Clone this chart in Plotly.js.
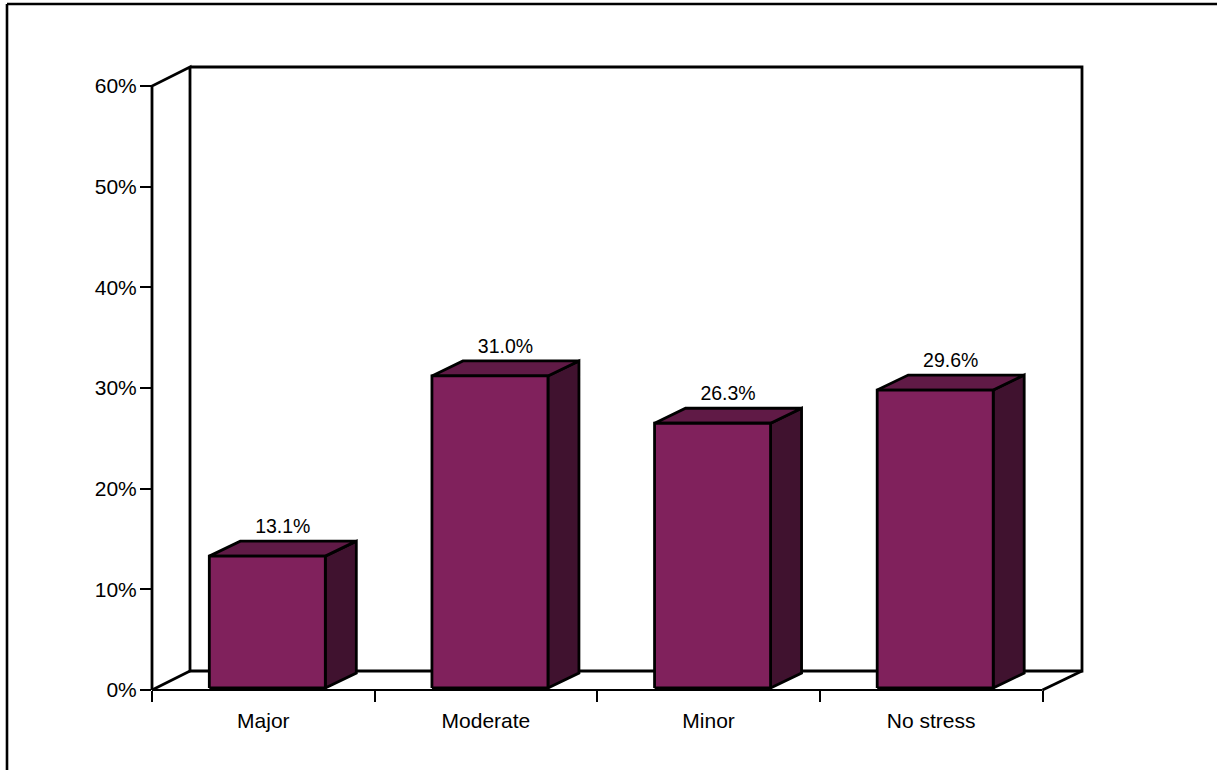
<!DOCTYPE html>
<html>
<head>
<meta charset="utf-8">
<script src="https://cdn.plot.ly/plotly-3.0.1.min.js"></script>
<style>html,body{margin:0;padding:0;background:#fff;overflow:hidden}#chart{width:1217px;height:770px}</style>
</head>
<body>
<div id="chart"></div>
<script>
var categories = ["Major", "Moderate", "Minor", "No stress"];
var values = [13.1, 31.0, 26.3, 29.6];
var valueLabels = ["13.1%", "31.0%", "26.3%", "29.6%"];
var yTicks = [0, 10, 20, 30, 40, 50, 60];

var W = 1217, H = 770, L = 152, R = 1042.5, T = 86, B = 690;
var n = categories.length, ym = 60;
var ux = (R - L) / n;     // px per category
var uy = (B - T) / ym;    // px per percent
function dx(px) { return px / ux; }
function dy(px) { return px / uy; }

var BLACK = "#000000", LW = 2.8;
var barHalf = dx(116) / 2;
var shiftX = dx(4), shiftY = dy(2);
var depthX = dx(31), depthY = dy(15);
var wallPxX = 39.5, wallPxY = 19;
var wallX = dx(wallPxX), wallY = dy(wallPxY), wallLeft = dx(38);
var R2 = R + wallPxX, T2 = T - wallPxY;
var PAD = 6;
var Lp = L - PAD, Rp = R2 + PAD, Tp = T2 - PAD, Bp = B + PAD;
var PW = Rp - Lp, PH = Bp - Tp;

var front = {x: [], y: []}, top_ = {x: [], y: []}, side = {x: [], y: []};
function add(o, xs, ys) {
  o.x = o.x.concat(xs, [null]);
  o.y = o.y.concat(ys, [null]);
}
var lx = [], ly = [];
categories.forEach(function (c, i) {
  var x0 = i + 0.5 + shiftX - barHalf, x1 = i + 0.5 + shiftX + barHalf;
  var y0 = shiftY, y1 = values[i] + shiftY;
  add(front, [x0, x1, x1, x0, x0], [y0, y0, y1, y1, y0]);
  add(top_, [x0, x1, x1 + depthX, x0 + depthX, x0], [y1, y1, y1 + depthY, y1 + depthY, y1]);
  add(side, [x1, x1 + depthX, x1 + depthX, x1, x1], [y0, y0 + depthY, y1 + depthY, y1, y0]);
  lx.push(i + 0.5 + shiftX + depthX / 2);
  ly.push(y1 + depthY + dy(3.5));
});

function face(o, color) {
  return {x: o.x, y: o.y, xaxis: "x2", yaxis: "y2", mode: "lines", fill: "toself", fillcolor: color,
    line: {color: BLACK, width: LW, simplify: false}, hoverinfo: "skip"};
}
var wall = {
  x: [0, 0, wallLeft, wallLeft, n + wallX, n + wallX, wallLeft, null, 0, wallLeft, null, n, n + wallX],
  y: [0, ym, ym + wallY, wallY, wallY, ym + wallY, ym + wallY, null, 0, wallY, null, 0, wallY],
  xaxis: "x2", yaxis: "y2", mode: "lines",
  line: {color: BLACK, width: LW, simplify: false}, hoverinfo: "skip"
};
var baseLine = {
  x: [0, n], y: [0, 0], xaxis: "x2", yaxis: "y2", mode: "lines",
  line: {color: BLACK, width: 2}, hoverinfo: "skip"
};
var labels = {
  x: lx, y: ly, text: valueLabels, mode: "text", textposition: "top center",
  textfont: {family: "Liberation Sans, Arial, sans-serif", size: 19.5, color: BLACK},
  cliponaxis: false, hoverinfo: "skip"
};

var centers = categories.map(function (c, i) { return i + 0.5; });
var bounds = categories.map(function (c, i) { return i; }).concat([n]);
var font = {family: "Liberation Sans, Arial, sans-serif", size: 21, color: BLACK};

var layout = {
  width: W, height: H, showlegend: false,
  margin: {l: Lp, r: W - Rp, t: Tp, b: H - Bp, pad: 0},
  paper_bgcolor: "#fff", plot_bgcolor: "rgba(0,0,0,0)",
  xaxis: {
    domain: [PAD / PW, 1 - PAD / PW], anchor: "y",
    range: [0, n + wallX], tickmode: "array", tickvals: centers, ticktext: categories,
    ticks: "", showgrid: false, zeroline: false, showline: false,
    tickfont: font, ticklabelstandoff: 16,
    minor: {tickmode: "array", tickvals: bounds, ticks: "outside", ticklen: 11, tickwidth: 2, tickcolor: BLACK, showgrid: false}
  },
  yaxis: {
    domain: [PAD / PH, 1 - PAD / PH], anchor: "x",
    range: [0, ym + wallY], tickmode: "array", tickvals: yTicks,
    ticktext: yTicks.map(function (v) { return v + "%"; }),
    ticks: "outside", ticklen: 11, tickwidth: 2, tickcolor: BLACK,
    showgrid: false, zeroline: false, showline: false, tickfont: font, ticklabelstandoff: -1
  },
  xaxis2: {domain: [0, 1], anchor: "y2", range: [-dx(PAD), n + wallX + dx(PAD)], visible: false},
  yaxis2: {domain: [0, 1], anchor: "x2", range: [-dy(PAD), ym + wallY + dy(PAD)], visible: false},
  shapes: [
    {type: "line", xref: "paper", yref: "paper", x0: (7 - Lp) / PW, x1: (W + 5 - Lp) / PW,
     y0: (Bp - 4) / PH, y1: (Bp - 4) / PH, line: {color: BLACK, width: 2.6}},
    {type: "line", xref: "paper", yref: "paper", x0: (7 - Lp) / PW, x1: (7 - Lp) / PW,
     y0: (Bp - 4) / PH, y1: (Bp - H - 5) / PH, line: {color: BLACK, width: 2.6}}
  ]
};
Plotly.newPlot("chart",
  [labels, wall, baseLine, face(side, "#40122F"), face(top_, "#601A46"), face(front, "#80215C")],
  layout, {displayModeBar: false, staticPlot: true});
</script>
</body>
</html>
